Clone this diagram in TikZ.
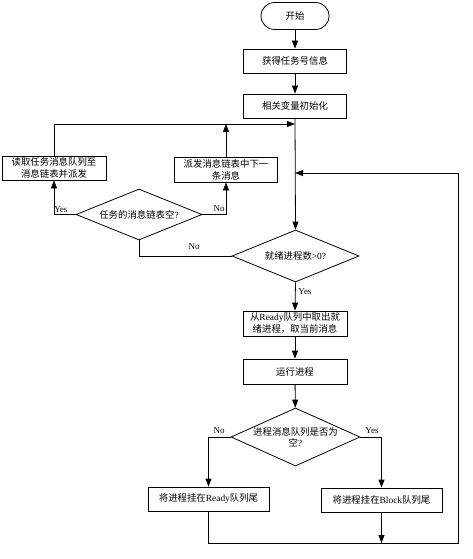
\documentclass[tikz,border=0pt]{standalone}
\usepackage{fontspec}
\setmainfont{Liberation Serif}
\newfontfamily\cjk{Noto Sans CJK SC}
\usetikzlibrary{arrows.meta,shapes.geometric}
\newcommand\zh[1]{{\cjk #1}}
\begin{document}
\begin{tikzpicture}[x=1pt,y=-1pt,line width=0.8pt,
  box/.style={draw,rectangle,inner sep=0pt,font=\fontsize{9.4}{12}\selectfont,align=center},
  term/.style={box,rounded corners=13.5pt},
  dia/.style={draw,diamond,inner sep=0pt},
  dtxt/.style={inner sep=0pt,font=\fontsize{9.4}{11.5}\selectfont,align=center},
  lbl/.style={inner sep=0pt,font=\fontsize{9}{10}\selectfont},
  arr/.style={-{Triangle[length=8pt,width=6pt]}}]
\useasboundingbox (0,0) rectangle (473,559);
% nodes
\node[term,minimum width=68,minimum height=27] (start) at (295,16) {\zh{开始}};
\node[box,minimum width=103,minimum height=24] (b1) at (295,61) {\zh{获得任务号信息}};
\node[box,minimum width=103,minimum height=24] (b2) at (295,106) {\zh{相关变量初始化}};
\node[box,minimum width=104,minimum height=24] (lb) at (54,168) {\zh{读取任务消息队列至}\\\zh{消息链表并派发}};
\node[box,minimum width=103,minimum height=25] (mb) at (226,169.5) {\zh{派发消息链表中下一}\\\zh{条消息}};
\node[dia,minimum width=126,minimum height=51] (d1) at (139,214.5) {};
\node[dtxt] (t1) at (d1.center) {\zh{任务的消息链表空}?};
\node[dia,minimum width=127,minimum height=52] (d2) at (295.5,256) {};
\node[dtxt] (t2) at (d2.center) {\zh{就绪进程数}>0?};
\node[box,minimum width=104,minimum height=25] (b4) at (295,323.5) {\zh{从}Ready\zh{队列中取出就}\\\zh{绪进程，取当前消息}};
\node[box,minimum width=104,minimum height=25] (b5) at (295,371.5) {\zh{运行进程}};
\node[dia,minimum width=129,minimum height=58] (d3) at (295.5,437) {};
\node[dtxt] (t3) at (d3.center) {\zh{进程消息队列是否为}\\\zh{空}?};
\node[box,minimum width=121,minimum height=24] (rb) at (208.5,499) {\zh{将进程挂在}Ready\zh{队列尾}};
\node[box,minimum width=121,minimum height=24] (bb) at (381.5,500) {\zh{将进程挂在}Block\zh{队列尾}};
% junctions
\coordinate (j1) at (295,124);
\coordinate (j2) at (295,173);
\coordinate (c1) at (458,543);
% connectors
\draw[arr] (start) -- (b1);
\draw[arr] (b1) -- (b2);
\draw[arr] (b2.south) -- (d2.north);
\draw[arr] (lb.north) |- (j1);
\draw[arr] (d1.west) -| (lb.south);
\draw[arr] (d1.east) -| (mb.south);
\draw[arr] (mb.north) -- (mb.north |- j1);
\draw (d2.west) -| (d1.south);
\draw[arr] (d2.south) -- (b4.north);
\draw[arr] (b4) -- (b5);
\draw[arr] (b5) -- (d3);
\draw[arr] (d3.west) -| (rb.north);
\draw[arr] (d3.east) -| (bb.north);
\draw[arr] (bb.south) -- (bb.south |- c1);
\draw[arr] (rb.south) |- (c1) |- (j2);
% labels
\node[lbl,anchor=south west] (l1) at (54,213) {Yes};
\node[lbl,anchor=south east] (l2) at (225,212) {No};
\node[lbl] (l3) at (194,247) {No};
\node[lbl,anchor=west] (l4) at (298,292) {Yes};
\node[lbl] (l5) at (219,431) {No};
\node[lbl] (l6) at (372,431) {Yes};
\end{tikzpicture}
\end{document}
